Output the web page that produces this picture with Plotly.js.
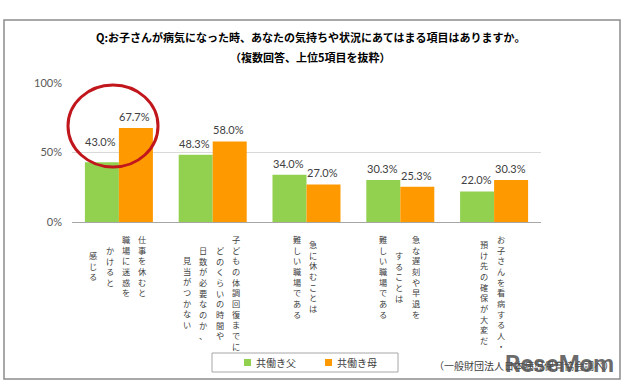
<!DOCTYPE html>
<html>
<head>
<meta charset="utf-8">
<script src="https://cdn.plot.ly/plotly-3.0.1.min.js"></script>
<style>html,body{margin:0;padding:0;background:#fff;}#chart{width:626px;height:385px;}</style>
</head>
<body>
<div id="chart"></div>
<script>
// ---- data ----
const categoryLines = [
  ["仕事を休むと", "職場に迷惑を", "かけると", "感じる"],
  ["子どもの体調回復までに", "どのくらいの時間や", "日数が必要なのか、", "見当がつかない"],
  ["急に休むことは", "難しい職場である"],
  ["急な遅刻や早退を", "することは", "難しい職場である"],
  ["お子さんを看病する人・", "預け先の確保が大変だ"]
];
const categories = categoryLines.map(l => l.join(""));
const fatherValues = [43.0, 48.3, 34.0, 30.3, 22.0];
const motherValues = [67.7, 58.0, 27.0, 25.3, 30.3];
const seriesNames = ["共働き父", "共働き母"];
const seriesColors = ["#92D050", "#FF9900"];
const yTickVals = [0, 50, 100];
const yTickText = ["0%", "50%", "100%"];
const titleLine1 = "Q:お子さんが病気になった時、あなたの気持ちや状況にあてはまる項目はありますか。";
const titleLine2 = "（複数回答、上位5項目を抜粋）";
const sourceNote = "（一般財団法人日本病児保育協会調べ）";

const JP = '"Noto Sans CJK JP", "Noto Sans", sans-serif';
const NUM = 'Lato, "Open Sans", sans-serif';

// plot geometry (pixels) -> paper helpers
const PL = 72, PR = 541, PT = 83, PB = 222;
const px = p => (p - PL) / (PR - PL);
const py = p => (PB - p) / (PB - PT);
const BARGAP = 0.275;
const barW = (PR - PL) / categories.length * (1 - BARGAP) / 2;

const allValues = [fatherValues, motherValues];
const traces = allValues.map((vals, s) => ({
  type: 'bar', name: seriesNames[s], x: categories, y: vals,
  marker: {color: seriesColors[s]}, hoverinfo: 'skip'
}));

const annotations = [];
// value labels above bars
allValues.forEach((vals, s) => {
  vals.forEach((v, c) => {
    const lift = (s === 0 && c === 0) ? 21 : 11.5;
    annotations.push({x: categories[c], xref: 'x', y: v, yref: 'y',
      xshift: (s === 0 ? -1 : 1) * barW / 2 - 1, yshift: lift, xanchor: 'center', yanchor: 'middle',
      text: v.toFixed(1) + '%', showarrow: false, font: {family: NUM, size: 11, color: '#404040'}});
  });
});

// vertical (tategaki) category labels, one annotation per column, right to left
const lblSize = 8.2, pitch = lblSize * 1.3, colGap = 16.5, topPad = 9;
categoryLines.forEach((lines, c) => {
  const n = lines.length;
  const maxLen = Math.max(...lines.map(l => Array.from(l).length));
  lines.forEach((line, j) => {
    const chars = Array.from(line);
    const off = (maxLen - chars.length) / 2;
    annotations.push({x: categories[c], xref: 'x', y: 0, yref: 'y',
      xshift: ((n - 1) / 2 - j) * colGap - 1, yshift: -(topPad + off * pitch),
      xanchor: 'center', yanchor: 'top', align: 'center',
      text: chars.join('<br>'), showarrow: false, font: {family: JP, size: lblSize, color: '#404040'}});
  });
});

// titles
annotations.push({xref: 'paper', yref: 'paper', x: px(310), y: py(37), xanchor: 'center', yanchor: 'middle',
  text: '<b>' + titleLine1 + '</b>', showarrow: false, font: {family: JP, size: 11, color: '#000'}});
annotations.push({xref: 'paper', yref: 'paper', x: px(310), y: py(57), xanchor: 'center', yanchor: 'middle',
  text: '<b>' + titleLine2 + '</b>', showarrow: false, font: {family: JP, size: 11, color: '#000'}});

// legend (drawn manually to match the small boxed legend)
const legendX = [244, 325];
seriesNames.forEach((nm, s) => {
  annotations.push({xref: 'paper', yref: 'paper', x: px(legendX[s] + 10), y: py(362.5), xanchor: 'left', yanchor: 'middle',
    text: nm, showarrow: false, font: {family: JP, size: 10, color: '#404040'}});
});

// source note and watermark
annotations.push({xref: 'paper', yref: 'paper', x: px(432), y: py(366), xanchor: 'left', yanchor: 'middle',
  text: sourceNote, showarrow: false, font: {family: JP, size: 10, color: '#404040'}});
annotations.push({xref: 'paper', yref: 'paper', x: px(616), y: py(364), xanchor: 'right', yanchor: 'middle',
  text: '<b>ReseMom</b>', showarrow: false, font: {family: 'Roboto, sans-serif', size: 24, color: 'rgba(80,80,80,0.85)'}});

const shapes = [
  {type: 'rect', xref: 'paper', yref: 'paper', x0: px(4), x1: px(620), y0: py(379), y1: py(20),
   line: {color: '#8C8C8C', width: 1.5}, fillcolor: 'rgba(0,0,0,0)', layer: 'below'},
  {type: 'rect', xref: 'paper', yref: 'paper', x0: px(212), x1: px(398), y0: py(372), y1: py(353),
   line: {color: '#A6A6A6', width: 1}, fillcolor: 'rgba(0,0,0,0)'},
  {type: 'circle', xref: 'paper', yref: 'paper', x0: px(68), x1: px(158), y0: py(167), y1: py(85),
   line: {color: '#C0161C', width: 3}}
];
seriesColors.forEach((col, s) => {
  shapes.push({type: 'rect', xref: 'paper', yref: 'paper', x0: px(legendX[s]), x1: px(legendX[s] + 7),
    y0: py(366), y1: py(359), line: {width: 0}, fillcolor: col});
});

const layout = {
  width: 626, height: 385,
  margin: {l: PL, r: 626 - PR, t: PT, b: 385 - PB, pad: 0},
  paper_bgcolor: '#fff', plot_bgcolor: '#fff',
  barmode: 'group', bargap: BARGAP, bargroupgap: 0,
  showlegend: false,
  xaxis: {showticklabels: false, ticks: '', showgrid: false, zeroline: false,
    showline: true, linecolor: '#A6A6A6', linewidth: 1, fixedrange: true},
  yaxis: {range: [0, 100], tickvals: yTickVals, ticktext: yTickText, showgrid: true,
    gridcolor: '#D9D9D9', gridwidth: 1, zeroline: false, showline: false, ticks: '',
    tickfont: {family: NUM, size: 11, color: '#595959'}, ticklabelstandoff: 9, fixedrange: true},
  shapes: shapes,
  annotations: annotations
};

Plotly.newPlot('chart', traces, layout, {displayModeBar: false, staticPlot: true});
</script>
</body>
</html>
